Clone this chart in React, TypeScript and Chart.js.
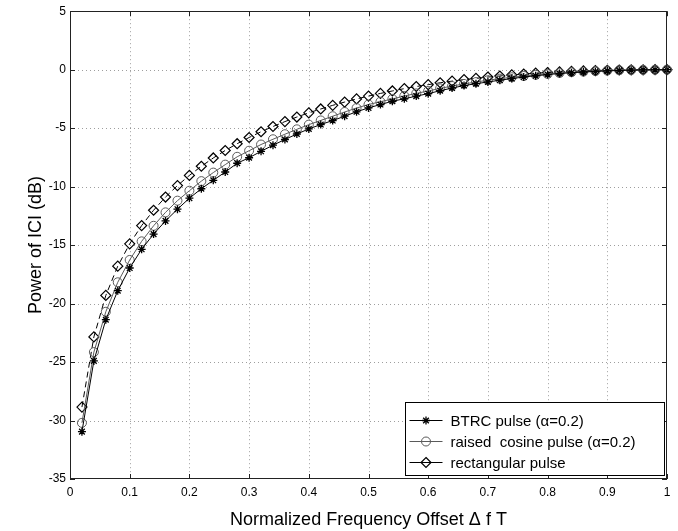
import React, { useEffect, useRef } from "react";
import { Chart, registerables } from "chart.js";

Chart.register(...registerables);

// Normalized frequency offset (x values)
const offsets = [
  0.02, 0.04, 0.06, 0.08, 0.1, 0.12, 0.14, 0.16, 0.18, 0.2,
  0.22, 0.24, 0.26, 0.28, 0.3, 0.32, 0.34, 0.36, 0.38, 0.4,
  0.42, 0.44, 0.46, 0.48, 0.5, 0.52, 0.54, 0.56, 0.58, 0.6,
  0.62, 0.64, 0.66, 0.68, 0.7, 0.72, 0.74, 0.76, 0.78, 0.8,
  0.82, 0.84, 0.86, 0.88, 0.9, 0.92, 0.94, 0.96, 0.98, 1.0,
];

// Power of ICI (dB)
const btrc = [
  -30.95, -24.9, -21.38, -18.9, -16.96, -15.36, -14.06, -12.93, -11.93, -10.99,
  -10.18, -9.46, -8.75, -8.0, -7.53, -6.98, -6.46, -5.97, -5.5, -5.07,
  -4.69, -4.35, -3.98, -3.6, -3.27, -2.98, -2.7, -2.49, -2.26, -2.05,
  -1.8, -1.57, -1.36, -1.2, -1.05, -0.9, -0.76, -0.63, -0.52, -0.42,
  -0.33, -0.26, -0.2, -0.15, -0.1, -0.07, -0.04, -0.02, -0.01, 0,
];

const raisedCosine = [
  -30.2, -24.15, -20.7, -18.18, -16.27, -14.68, -13.35, -12.2, -11.2, -10.35,
  -9.53, -8.8, -8.12, -7.45, -6.93, -6.4, -5.95, -5.52, -5.1, -4.7,
  -4.34, -3.98, -3.62, -3.28, -2.98, -2.74, -2.5, -2.25, -2.03, -1.82,
  -1.6, -1.4, -1.22, -1.06, -0.9, -0.77, -0.65, -0.54, -0.44, -0.36,
  -0.28, -0.22, -0.17, -0.12, -0.08, -0.05, -0.03, -0.02, -0.01, 0,
];

const rectangular = [
  -28.85, -22.85, -19.3, -16.8, -14.89, -13.33, -12.02, -10.89, -9.91, -9.04,
  -8.26, -7.55, -6.91, -6.33, -5.8, -5.31, -4.86, -4.44, -4.05, -3.69,
  -3.36, -3.05, -2.77, -2.5, -2.26, -2.03, -1.82, -1.62, -1.44, -1.28,
  -1.12, -0.98, -0.85, -0.74, -0.63, -0.54, -0.45, -0.37, -0.3, -0.24,
  -0.19, -0.15, -0.11, -0.08, -0.05, -0.03, -0.02, -0.01, 0, 0,
];

const seriesLabels = [
  "BTRC pulse (\u03b1=0.2)",
  "raised  cosine pulse (\u03b1=0.2)",
  "rectangular pulse",
];

const xTickValues = [0, 0.1, 0.2, 0.3, 0.4, 0.5, 0.6, 0.7, 0.8, 0.9, 1];
const yTickValues = [-35, -30, -25, -20, -15, -10, -5, 0, 5];

const FONT = "'Liberation Sans', Arial, Helvetica, sans-serif";
const RC_COLOR = "#5a5a5a";

function toPoints(values: number[]) {
  return values.map((v, i) => ({ x: offsets[i], y: v }));
}

function drawMarker(ctx: CanvasRenderingContext2D, style: string, x: number, y: number, r: number) {
  ctx.beginPath();
  if (style === "star") {
    const d = r * Math.SQRT1_2;
    ctx.moveTo(x - r, y); ctx.lineTo(x + r, y);
    ctx.moveTo(x, y - r); ctx.lineTo(x, y + r);
    ctx.moveTo(x - d, y - d); ctx.lineTo(x + d, y + d);
    ctx.moveTo(x - d, y + d); ctx.lineTo(x + d, y - d);
  } else if (style === "circle") {
    ctx.arc(x, y, r, 0, Math.PI * 2);
  } else {
    ctx.moveTo(x, y - r); ctx.lineTo(x + r, y); ctx.lineTo(x, y + r); ctx.lineTo(x - r, y); ctx.closePath();
  }
  ctx.stroke();
}

const gridPlugin = {
  id: "dottedGrid",
  beforeDatasetsDraw(chart: any) {
    const { ctx, chartArea, scales } = chart;
    const { left, right, top, bottom } = chartArea;
    ctx.save();
    ctx.strokeStyle = "rgba(0,0,0,0.38)";
    ctx.lineWidth = 1;
    ctx.setLineDash([1, 3]);
    ctx.beginPath();
    xTickValues.slice(1, -1).forEach((v) => {
      const px = Math.round(scales.x.getPixelForValue(v)) + 0.5;
      ctx.moveTo(px, top); ctx.lineTo(px, bottom);
    });
    yTickValues.slice(1, -1).forEach((v) => {
      const py = Math.round(scales.y.getPixelForValue(v)) + 0.5;
      ctx.moveTo(left, py); ctx.lineTo(right, py);
    });
    ctx.stroke();
    ctx.restore();
  },
};

const framePlugin = {
  id: "matlabFrame",
  afterDatasetsDraw(chart: any) {
    const { ctx, chartArea, scales } = chart;
    const { left, right, top, bottom } = chartArea;
    ctx.save();
    ctx.strokeStyle = "#222";
    ctx.lineWidth = 1;
    ctx.strokeRect(Math.round(left) + 0.5, Math.round(top) + 0.5, Math.round(right - left) - 1, Math.round(bottom - top) - 1);
    ctx.beginPath();
    xTickValues.forEach((v) => {
      const px = Math.round(scales.x.getPixelForValue(v)) + 0.5;
      ctx.moveTo(px, bottom); ctx.lineTo(px, bottom - 5);
      ctx.moveTo(px, top); ctx.lineTo(px, top + 5);
    });
    yTickValues.forEach((v) => {
      const py = Math.round(scales.y.getPixelForValue(v)) + 0.5;
      ctx.moveTo(left, py); ctx.lineTo(left + 5, py);
      ctx.moveTo(right, py); ctx.lineTo(right - 5, py);
    });
    ctx.stroke();
    ctx.restore();
  },
};

const legendPlugin = {
  id: "boxLegend",
  afterDraw(chart: any) {
    const { ctx, chartArea } = chart;
    const w = 259;
    const h = 73;
    const x0 = Math.round(chartArea.right - 3 - w) + 0.5;
    const y0 = Math.round(chartArea.bottom - 4 - h) + 0.5;
    ctx.save();
    ctx.fillStyle = "#fff";
    ctx.fillRect(x0, y0, w, h);
    ctx.strokeStyle = "#000";
    ctx.lineWidth = 1;
    ctx.strokeRect(x0, y0, w, h);
    chart.data.datasets.forEach((ds: any, i: number) => {
      const cy = y0 + 18 + i * 21;
      ctx.strokeStyle = ds.borderColor;
      ctx.lineWidth = ds.borderWidth;
      ctx.setLineDash([]);
      ctx.beginPath();
      ctx.moveTo(x0 + 4, cy);
      ctx.lineTo(x0 + 37, cy);
      ctx.stroke();
      ctx.strokeStyle = ds.pointBorderColor;
      ctx.lineWidth = ds.pointBorderWidth;
      drawMarker(ctx, ds.pointStyle === "rectRot" ? "diamond" : ds.pointStyle, x0 + 20.5, cy, ds.pointRadius);
      ctx.fillStyle = "#000";
      ctx.font = `15px ${FONT}`;
      ctx.textBaseline = "middle";
      ctx.textAlign = "left";
      ctx.fillText(ds.label, x0 + 45, cy + 1);
    });
    ctx.restore();
  },
};

export default function App() {
  const ref = useRef<HTMLCanvasElement>(null);

  useEffect(() => {
    if (!ref.current) return;
    const chart = new Chart(ref.current, {
      type: "line",
      data: {
        datasets: [
          {
            label: seriesLabels[0],
            data: toPoints(btrc),
            borderColor: "#000",
            borderWidth: 1,
            pointStyle: "star",
            pointRadius: 4,
            pointBorderColor: "#000",
            pointBorderWidth: 1.3,
            pointBackgroundColor: "transparent",
            tension: 0,
            clip: false,
          } as any,
          {
            label: seriesLabels[1],
            data: toPoints(raisedCosine),
            borderColor: RC_COLOR,
            borderWidth: 1,
            pointStyle: "circle",
            pointRadius: 4.5,
            pointBorderColor: RC_COLOR,
            pointBorderWidth: 1,
            pointBackgroundColor: "transparent",
            tension: 0,
            clip: false,
          } as any,
          {
            label: seriesLabels[2],
            data: toPoints(rectangular),
            borderColor: "#000",
            borderWidth: 1,
            borderDash: [6, 4],
            pointStyle: "rectRot",
            pointRadius: 5,
            pointBorderColor: "#000",
            pointBorderWidth: 1.2,
            pointBackgroundColor: "transparent",
            tension: 0,
            clip: false,
          } as any,
        ],
      },
      options: {
        responsive: false,
        animation: false,
        devicePixelRatio: 1,
        layout: { padding: { top: 11, right: 11, left: 0, bottom: 0 } },
        plugins: {
          legend: { display: false },
          tooltip: { enabled: false },
        },
        scales: {
          x: {
            type: "linear",
            min: 0,
            max: 1,
            afterFit: (s: any) => { s.height = 52; },
            afterBuildTicks: (s: any) => { s.ticks = xTickValues.map((v) => ({ value: v })); },
            ticks: {
              stepSize: 0.1,
              padding: 6,
              color: "#000",
              font: { family: FONT, size: 12 },
              callback: (v: any) => String(Math.round(Number(v) * 10) / 10),
            },
            grid: { display: false, drawTicks: false },
            border: { display: false },
            title: {
              display: true,
              text: "Normalized Frequency Offset \u0394 f T",
              color: "#000",
              font: { family: FONT, size: 18 },
              padding: { top: 2, bottom: 0 },
            },
          },
          y: {
            type: "linear",
            min: -35,
            max: 5,
            afterFit: (s: any) => { s.width = 70; },
            afterBuildTicks: (s: any) => { s.ticks = yTickValues.map((v) => ({ value: v })); },
            ticks: {
              stepSize: 5,
              padding: 4,
              color: "#000",
              font: { family: FONT, size: 12 },
            },
            grid: { display: false, drawTicks: false },
            border: { display: false },
            title: {
              display: true,
              text: "Power of ICI (dB)",
              color: "#000",
              font: { family: FONT, size: 18 },
              padding: { top: 25, bottom: 0 },
            },
          },
        },
      },
      plugins: [gridPlugin, framePlugin, legendPlugin],
    });
    return () => chart.destroy();
  }, []);

  return (
    <div style={{ position: "absolute", left: 0, top: 0, width: 678, height: 531, background: "#fff" }}>
      <canvas ref={ref} width={678} height={531} style={{ display: "block", width: 678, height: 531 }} />
    </div>
  );
}
